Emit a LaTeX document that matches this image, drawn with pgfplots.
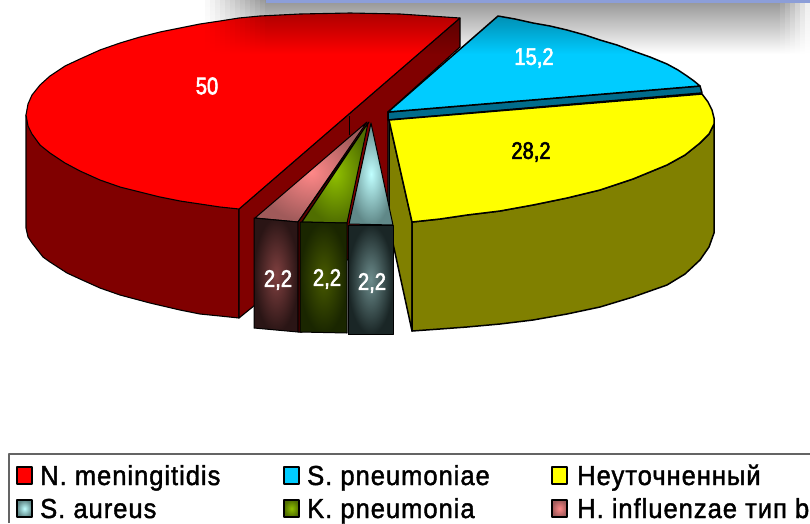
\documentclass[border=0pt]{standalone}
\usepackage{fontspec}
\setmainfont{Liberation Sans}
\newfontfamily\narrow[FakeStretch=0.84,FakeBold=2.4]{Liberation Sans}
\newfontfamily\legfont[FakeStretch=0.93,FakeBold=1.5,LetterSpace=3.5]{Liberation Sans}
\usepackage{pgfplots}
\pgfplotsset{compat=1.18}
\usetikzlibrary{fadings}
\tikzfading[name=shadowdown, top color=transparent!58, middle color=transparent!70, bottom color=transparent!100]
\definecolor{wallred}{HTML}{800000}
\definecolor{teal2}{HTML}{006C8C}
\definecolor{skyb}{HTML}{00CCFF}
\definecolor{olive2}{HTML}{808000}
\definecolor{yell}{HTML}{FFFF00}
\definecolor{band}{HTML}{8C9ED8}
\newcommand{\lbl}[4][white]{\node[text=#1,font=\narrow\fontsize{24}{28}\selectfont,inner sep=0pt] at (axis cs:#2,#3) {#4};}
\newcommand{\leg}[3]{\node[anchor=base west,inner sep=0pt,text=black,font=\legfont\fontsize{27.5}{30}\selectfont] at (axis cs:#1,#2) {#3};}
\newcommand{\shadowstrip}[3]{\addplot[draw=none, fill=black, fill opacity=#3, path fading=shadowdown] coordinates {(#1,0) (#2,0) (#2,54) (#1,54)} -- cycle;}
\begin{document}
\begin{tikzpicture}
\begin{axis}[
  scale only axis, width=810pt, height=523pt,
  xmin=0, xmax=810, ymin=0, ymax=523, y dir=reverse,
  hide axis, clip=true,
  every axis plot/.append style={line width=1.5pt, draw=black, line join=round}
]
% red slice
\addplot[fill=wallred, line width=1.1pt] coordinates {(26,115) (26,228) (28,237) (32,243) (43,257) (50,262) (67,273) (80,279) (100,288) (120,295) (150,303) (180,310) (200,314) (220,316) (239,318) (239,209)} -- cycle;
\addplot[fill=wallred, line width=1.1pt] coordinates {(239,209) (460,18) (460,47) (388,112) (388,240) (255,305) (239,318)} -- cycle;
\addplot[draw=black, line width=0.8pt] coordinates {(349,116) (349,135)};
\addplot[fill=red, line width=1.1pt] coordinates {(239,209) (220,207) (200,204) (180,201) (160,197) (140,192) (120,187) (100,180) (80,171) (65,163) (50,153) (40,145) (32,134) (28,126) (26,115) (28,104) (32,95) (40,85) (50,76) (65,66) (80,59) (100,50) (120,43) (140,37) (160,32) (180,28) (200,24) (220,21) (239,18) (260,16) (300,14) (350,13) (400,14) (430,16) (460,18)} -- cycle;
% blue slice
\addplot[fill=teal2] coordinates {(388,112) (700,86) (702,93) (388,120)} -- cycle;
\addplot[fill=skyb] coordinates {(388,112) (498,16) (515,19) (533,23) (550,26) (567,30) (585,35) (600,40) (617,45) (633,51) (650,57) (667,64) (678,70) (687,76) (694,81) (700,86)} -- cycle;
% yellow slice
\addplot[fill=olive2] coordinates {(389,120) (412,222) (412,331) (389,225)} -- cycle;
\addplot[fill=olive2] coordinates {(412,222) (440,219) (467,215) (500,211) (533,205) (567,198) (600,190) (633,179) (667,165) (685,155) (700,143) (709,134) (714,124) (714,233) (709,247) (700,260) (685,274) (667,285) (633,297) (600,307) (567,314) (533,320) (500,324) (467,327) (440,329) (412,331)} -- cycle;
\addplot[fill=yell] coordinates {(389,120) (702,94) (708,102) (712,110) (714,118) (714,124) (709,134) (700,143) (685,155) (667,165) (633,179) (600,190) (567,198) (533,205) (500,211) (467,215) (440,219) (412,222)} -- cycle;
% small slices
\addplot[shade, inner color={rgb,255:red,255;green,136;blue,136}, outer color={rgb,255:red,160;green,90;blue,90}, line width=1pt] coordinates {(367,122) (255,218) (298,222)} -- cycle;
\addplot[shade, inner color={rgb,255:red,128;green,64;blue,64}, outer color={rgb,255:red,42;green,21;blue,21}, line width=1pt] coordinates {(254,218) (298,222) (298,332) (254,328)} -- cycle;
\addplot[fill=wallred!70!black, line width=1pt] coordinates {(298,222) (369,122) (302,222) (302,332) (298,332)} -- cycle;
\addplot[shade, inner color={rgb,255:red,144;green,192;blue,0}, outer color={rgb,255:red,80;green,110;blue,0}, line width=1pt] coordinates {(368,123) (302,222) (347,223)} -- cycle;
\addplot[shade, inner color={rgb,255:red,72;green,90;blue,0}, outer color={rgb,255:red,26;green,38;blue,0}, line width=1pt] coordinates {(300,222) (347,223) (347,333) (300,332)} -- cycle;
\addplot[shade, inner color={rgb,255:red,192;green,255;blue,255}, outer color={rgb,255:red,96;green,136;blue,136}, line width=1pt] coordinates {(371,123) (349,224) (393,225)} -- cycle;
\addplot[shade, inner color={rgb,255:red,108;green,140;blue,140}, outer color={rgb,255:red,26;green,38;blue,38}, line width=1pt] coordinates {(348,225) (393,225) (393,334) (348,334)} -- cycle;
% shadow on top of the pie
\shadowstrip{205}{210}{0.06}
\shadowstrip{210}{215}{0.12}
\shadowstrip{215}{220}{0.2}
\shadowstrip{220}{225}{0.28}
\shadowstrip{225}{230}{0.36}
\shadowstrip{230}{235}{0.44}
\shadowstrip{235}{240}{0.52}
\shadowstrip{240}{245}{0.6}
\shadowstrip{245}{250}{0.68}
\shadowstrip{250}{255}{0.76}
\shadowstrip{255}{260}{0.84}
\shadowstrip{260}{265}{0.92}
\shadowstrip{265}{780}{1}
\shadowstrip{780}{785}{0.9}
\shadowstrip{785}{790}{0.78}
\shadowstrip{790}{795}{0.64}
\shadowstrip{795}{800}{0.48}
\shadowstrip{800}{805}{0.32}
\shadowstrip{805}{810}{0.16}
\addplot[draw=none, fill=band] coordinates {(266,0) (810,0) (810,3) (266,3)} -- cycle;
% value labels
\lbl{207}{86}{50}
\lbl{534}{58}{15,2}
\lbl[black]{531}{152}{28,2}
\lbl{278}{280}{2,2}
\lbl{327}{279}{2,2}
\lbl{372}{283}{2,2}
% legend
\addplot[draw={rgb,255:red,100;green,100;blue,100}] coordinates {(9,523) (9,454) (810,454)};
\addplot[fill=red] coordinates {(17,467) (32,467) (32,484) (17,484)} -- cycle;
\addplot[fill=skyb] coordinates {(284,467) (299,467) (299,484) (284,484)} -- cycle;
\addplot[fill=yell] coordinates {(552,467) (567,467) (567,484) (552,484)} -- cycle;
\addplot[shade, inner color={rgb,255:red,192;green,255;blue,255}, outer color={rgb,255:red,96;green,136;blue,136}] coordinates {(17,500) (32,500) (32,517) (17,517)} -- cycle;
\addplot[shade, inner color={rgb,255:red,144;green,192;blue,0}, outer color={rgb,255:red,80;green,110;blue,0}] coordinates {(284,500) (299,500) (299,517) (284,517)} -- cycle;
\addplot[shade, inner color={rgb,255:red,255;green,136;blue,136}, outer color={rgb,255:red,160;green,90;blue,90}] coordinates {(552,500) (567,500) (567,517) (552,517)} -- cycle;
\leg{40}{485}{N. meningitidis}
\leg{307}{485}{S. pneumoniae}
\leg{577}{485}{Неуточненный}
\leg{40}{518}{S. aureus}
\leg{307}{518}{K. pneumonia}
\leg{577}{518}{H. influenzae тип b}
\end{axis}
\pgfresetboundingbox
\path[use as bounding box] (0,0) rectangle (810pt,523pt);
\end{tikzpicture}
\end{document}
